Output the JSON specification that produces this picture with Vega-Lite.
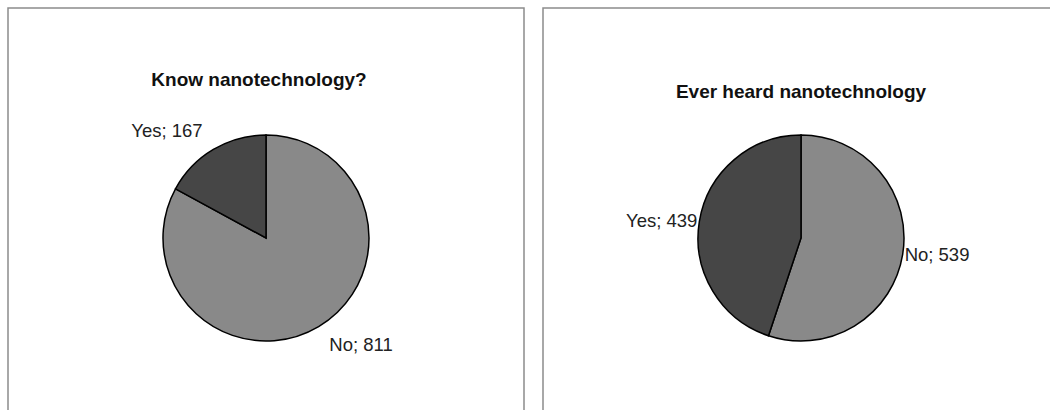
{
  "$schema": "https://vega.github.io/schema/vega-lite/v6.json",
  "padding": {"top": 7, "left": 7, "right": -10, "bottom": -57},
  "background": "white",
  "spacing": 17,
  "config": {
    "view": {"stroke": null},
    "font": "Liberation Sans",
    "title": {"font": "Liberation Sans", "fontSize": 19, "fontWeight": "bold", "color": "#111", "anchor": "middle", "baseline": "alphabetic"}
  },
  "datasets": {
    "know": [
      {"answer": "No", "count": 811, "label": "No; 811"},
      {"answer": "Yes", "count": 167, "label": "Yes; 167"}
    ],
    "heard": [
      {"answer": "No", "count": 539, "label": "No; 539"},
      {"answer": "Yes", "count": 439, "label": "Yes; 439"}
    ],
    "frame": [{"panel": "frame"}]
  },
  "hconcat": [
    {
      "width": 516,
      "height": 460,
      "title": {"text": "Know nanotechnology?", "offset": -83, "dx": -7},
      "layer": [
        {
          "data": {"name": "frame"},
          "mark": {"type": "rect", "fill": null, "stroke": "#8c8c8c", "strokeWidth": 1.5},
          "encoding": {}
        },
        {
          "data": {"name": "know"},
          "mark": {"type": "arc", "outerRadius": 103, "stroke": "#000", "strokeWidth": 1.5},
          "encoding": {
            "theta": {"field": "count", "type": "quantitative", "stack": true},
            "color": {"field": "answer", "type": "nominal", "scale": {"domain": ["No", "Yes"], "range": ["#898989", "#464646"]}, "legend": null}
          }
        },
        {
          "data": {"name": "know"},
          "mark": {"type": "text", "radius": 124, "fontSize": 18.5, "fill": "#222", "baseline": "middle", "align": {"expr": "datum.answer == 'Yes' ? 'right' : 'left'"}},
          "encoding": {
            "theta": {"field": "count", "type": "quantitative", "stack": true},
            "detail": {"field": "answer", "type": "nominal"},
            "text": {"field": "label", "type": "nominal"}
          }
        }
      ]
    },
    {
      "width": 516,
      "height": 460,
      "title": {"text": "Ever heard nanotechnology", "offset": -95},
      "layer": [
        {
          "data": {"name": "frame"},
          "mark": {"type": "rect", "fill": null, "stroke": "#8c8c8c", "strokeWidth": 1.5},
          "encoding": {}
        },
        {
          "data": {"name": "heard"},
          "mark": {"type": "arc", "outerRadius": 103, "stroke": "#000", "strokeWidth": 1.5},
          "encoding": {
            "theta": {"field": "count", "type": "quantitative", "stack": true},
            "color": {"field": "answer", "type": "nominal", "scale": {"domain": ["No", "Yes"], "range": ["#898989", "#464646"]}, "legend": null}
          }
        },
        {
          "data": {"name": "heard"},
          "mark": {"type": "text", "radius": 105, "fontSize": 18.5, "fill": "#222", "baseline": "middle", "align": {"expr": "datum.answer == 'Yes' ? 'right' : 'left'"}},
          "encoding": {
            "theta": {"field": "count", "type": "quantitative", "stack": true},
            "detail": {"field": "answer", "type": "nominal"},
            "text": {"field": "label", "type": "nominal"}
          }
        }
      ]
    }
  ]
}
